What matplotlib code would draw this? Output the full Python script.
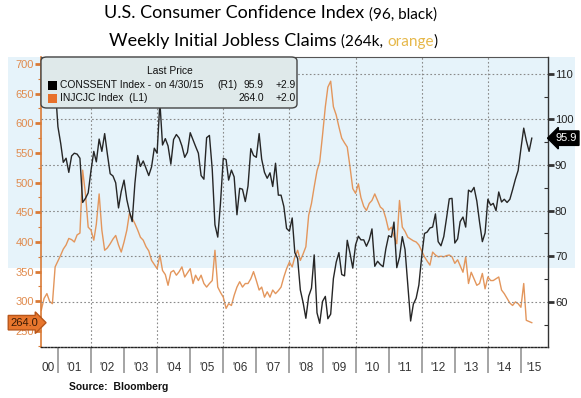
import matplotlib
matplotlib.use("Agg")
import matplotlib.pyplot as plt
from matplotlib.patches import Rectangle, FancyBboxPatch
from matplotlib.ticker import MultipleLocator
import pandas as pd

# monthly values, Jun 2000 .. Apr 2015
start_month = "2000-06-30"
conf_values = [
    106.4, 108.3, 107.3, 106.8, 105.8, 107.6, 98.4,
    94.7, 90.6, 91.5, 88.4, 92.0, 92.6, 92.4, 91.5, 81.8, 82.7, 83.9, 88.8,
    93.0, 90.7, 95.7, 93.0, 96.9, 92.4, 88.1, 87.6, 86.1, 80.6, 84.2, 86.7,
    82.4, 79.9, 77.6, 86.0, 92.1, 89.7, 90.9, 89.3, 87.7, 89.6, 93.7, 92.6,
    103.8, 94.4, 95.8, 94.2, 90.2, 95.6, 96.7, 95.9, 94.2, 91.7, 92.8, 97.1,
    95.5, 94.1, 92.6, 87.7, 86.9, 96.0, 96.5, 89.1, 76.9, 74.2, 81.6, 91.5,
    91.2, 86.7, 88.9, 87.4, 79.1, 84.9, 84.7, 82.0, 85.4, 93.6, 92.1, 91.7,
    96.9, 91.3, 88.4, 87.1, 88.3, 85.3, 90.4, 83.4, 83.4, 80.9, 76.1, 75.5,
    78.4, 70.8, 69.5, 62.6, 59.8, 56.4, 61.2, 63.0, 70.3, 57.6, 55.3, 60.1,
    61.2, 56.3, 57.3, 65.1, 68.7, 70.8, 66.0, 65.7, 73.5, 70.6, 67.4, 72.5,
    74.4, 73.6, 73.6, 72.2, 73.6, 76.0, 67.8, 68.9, 68.2, 67.7, 71.6, 74.5,
    74.2, 77.5, 67.5, 69.8, 74.3, 71.5, 63.7, 55.8, 59.5, 60.8, 63.7, 69.9,
    75.0, 75.3, 76.2, 76.4, 79.3, 73.2, 72.3, 74.3, 78.3, 82.6, 82.7, 72.9,
    73.8, 77.6, 78.6, 76.4, 84.5, 84.1, 85.1, 82.1, 77.5, 73.2, 75.1, 82.5,
    81.2, 81.6, 80.0, 84.1, 81.9, 82.5, 81.8, 82.5, 84.6, 86.9, 88.8, 93.6,
    98.1, 95.4, 93.0, 95.9,
]
claims_values = [
    285, 305, 313, 300, 296, 358, 368,
    378, 388, 395, 406, 404, 400, 412, 415, 521, 481, 425, 420,
    403, 430, 481, 420, 386, 390, 397, 405, 411, 395, 383, 400,
    420, 448, 440, 431, 420, 408, 403, 392, 385, 369, 362, 355,
    378, 352, 345, 327, 349, 352, 344, 350, 358, 341, 348, 355,
    330, 344, 335, 344, 330, 324, 330, 335, 386, 324, 315, 307,
    288, 296, 293, 310, 324, 333, 324, 330, 330, 338, 350, 335,
    319, 324, 307, 316, 307, 319, 313, 318, 324, 341, 355, 366,
    358, 375, 386, 369, 380, 392, 445, 465, 493, 520, 535, 580,
    628, 661, 671, 628, 614, 594, 575, 567, 560, 526, 490, 482,
    498, 475, 460, 453, 465, 470, 481, 470, 459, 455, 440, 420,
    425, 410, 397, 470, 425, 418, 408, 405, 402, 400, 395, 385,
    375, 368, 361, 383, 378, 375, 376, 375, 377, 378, 375, 364,
    370, 360, 349, 375, 330, 349, 338, 327, 330, 347, 321, 341,
    335, 335, 338, 341, 319, 313, 305, 297, 293, 299, 296, 290,
    330, 268, 266, 264,
]
year_starts = list(range(2001, 2016))
year_labels = ["'01", "'02", "'03", "'04", "'05", "'06", "'07", "'08",
               "'09", "'10", "'11", "'12", "'13", "'14", "'15"]
grid_years = [2002, 2004, 2006, 2008, 2010, 2012, 2014]
left_ticks = [250, 300, 350, 400, 450, 500, 550, 600, 650, 700]
right_ticks = [60, 70, 80, 90, 100, 110]
last_conf = 95.9
last_claims = 264.0

BLACK = "#262626"
ORANGE = "#e3965c"
ORANGE_DARK = "#d97a36"

W, H = 581, 398


def fx(px):
    return px / W


def fy(py):
    return 1 - py / H


dates = pd.date_range(start_month, periods=len(conf_values), freq="ME")

fig = plt.figure(figsize=(W / 100, H / 100), dpi=100)
plt.rcParams["font.family"] = ["Liberation Sans", "DejaVu Sans"]

# light blue band behind the upper part of the chart
fig.add_artist(Rectangle((fx(8), fy(268)), fx(575) - fx(8), fy(57) - fy(268),
                         transform=fig.transFigure, facecolor="#e6f3fa",
                         edgecolor="none", zorder=-1))

ax = fig.add_axes([fx(41), fy(347), fx(548) - fx(41), fy(57) - fy(347)])
ax.set_facecolor("none")
ax2 = ax.twinx()
ax2.set_facecolor("none")

ax.plot(dates, claims_values, color=ORANGE, lw=1.0)
ax2.plot(dates, conf_values, color=BLACK, lw=1.0)

ax.set_xlim(pd.Timestamp("2000-06-27"), pd.Timestamp("2015-10-26"))
ax.set_ylim(223, 711.8)
ax2.set_ylim(50.1, 113.7)

# grid
ax2.set_yticks(right_ticks)
ax2.yaxis.grid(True, ls=(0, (1.5, 2)), color="#8a8a8a", lw=0.8)
for yr in grid_years:
    ax.axvline(pd.Timestamp(f"{yr}-01-01"), ls=(0, (1.5, 2)), color="#8a8a8a",
               lw=0.8, zorder=0)

# x axis: separators at year starts, labels in between
ax.set_xticks([pd.Timestamp(f"{y}-01-01") for y in year_starts])
ax.tick_params(axis="x", which="major", length=19, width=1.1, color="#8c8c8c",
               labelbottom=False)
label_pos = [pd.Timestamp(f"{y}-07-01") for y in year_starts[:-1]]
label_pos.append(pd.Timestamp("2015-05-25"))
ax.set_xticks(label_pos, minor=True)
ax.set_xticklabels(year_labels, minor=True)
ax.tick_params(axis="x", which="minor", length=0, pad=11, labelsize=8.5,
               labelcolor="#333333")
fig.text(fx(41), fy(368), "00", ha="left", va="center", fontsize=8.5,
         color="#333333")

# left axis (claims)
ax.set_yticks(left_ticks)
ax.yaxis.set_minor_locator(MultipleLocator(25))
ax.tick_params(axis="y", which="major", length=4, width=2, color=ORANGE_DARK,
               labelsize=8, labelcolor="#e08a4c", pad=1)
ax.tick_params(axis="y", which="minor", length=2, width=0.8, color=ORANGE_DARK)
ax.spines["left"].set_color(ORANGE_DARK)
ax.spines["left"].set_linewidth(1.2)
ax.spines["right"].set_visible(False)
ax.spines["top"].set_color("#555555")
ax.spines["top"].set_linewidth(0.8)
ax.spines["bottom"].set_linestyle((0, (1.2, 1.2)))
ax.spines["bottom"].set_color("#222222")
ax.spines["bottom"].set_linewidth(1.0)

# right axis (confidence)
for side in ["left", "top", "bottom"]:
    ax2.spines[side].set_visible(False)
ax2.spines["right"].set_color("#333333")
ax2.spines["right"].set_linewidth(1.0)
ax2.yaxis.set_minor_locator(MultipleLocator(5))
ax2.tick_params(axis="y", which="major", length=4, width=2, color="#333333",
                labelsize=8, labelcolor="#222222", pad=1)
ax2.tick_params(axis="y", which="minor", length=3, width=0.8, color="#333333",
                direction="in")

# last value tags
ax2.annotate(f"{last_conf:.1f}", xy=(1, last_conf),
             xycoords=ax2.get_yaxis_transform(), xytext=(13, 0),
             textcoords="offset points", ha="center", va="center",
             color="white", fontsize=8, annotation_clip=False,
             bbox=dict(boxstyle="larrow,pad=0.2", fc="black", ec="black"))
ax.annotate(f"{last_claims:.1f}", xy=(0, last_claims),
            xycoords=ax.get_yaxis_transform(), xytext=(-12, 0),
            textcoords="offset points", ha="center", va="center",
            color="#3b1a05", fontsize=8, annotation_clip=False,
            bbox=dict(boxstyle="rarrow,pad=0.2", fc="#e8762d", ec="#b8561a"))

# legend box
fig.add_artist(FancyBboxPatch((fx(41), fy(108)), fx(297) - fx(41),
                              fy(57) - fy(108),
                              boxstyle="round,pad=0,rounding_size=0.01",
                              transform=fig.transFigure, fc="#dfe9ea",
                              ec="#444444", lw=1.0, zorder=5))
fig.add_artist(Rectangle((fx(48), fy(90)), fx(9), fx(9) * W / H,
                         transform=fig.transFigure, fc="black", ec="none",
                         zorder=6))
fig.add_artist(Rectangle((fx(48), fy(103)), fx(9), fx(9) * W / H,
                         transform=fig.transFigure, fc="#e8702a", ec="none",
                         zorder=6))
leg_kw = dict(fontsize=7.4, va="center", color="#111111", zorder=7)
fig.text(fx(170), fy(71), "Last Price", ha="center", **leg_kw)
fig.text(fx(60), fy(85), "CONSSENT Index -", ha="left", **leg_kw)
fig.text(fx(155), fy(85), "on 4/30/15", ha="left", **leg_kw)
fig.text(fx(217), fy(85), "(R1)", ha="left", **leg_kw)
fig.text(fx(264), fy(85), f"{last_conf:.1f}", ha="right", **leg_kw)
fig.text(fx(296), fy(85), "+2.9", ha="right", **leg_kw)
fig.text(fx(60), fy(98), "INJCJC Index  (L1)", ha="left", **leg_kw)
fig.text(fx(264), fy(98), f"{last_claims:.1f}", ha="right", **leg_kw)
fig.text(fx(296), fy(98), "+2.0", ha="right", **leg_kw)

# title, two lines with mixed sizes
title_font = ["Lato", "DejaVu Sans"]
renderer = fig.canvas.get_renderer()


def chain(x_px, y_px, parts):
    x = fx(x_px)
    for txt, size, color in parts:
        t = fig.text(x, fy(y_px), txt, fontsize=size, color=color,
                     ha="left", va="baseline", family=title_font)
        bb = t.get_window_extent(renderer)
        x = bb.x1 / fig.bbox.width


chain(104, 18.5, [("U.S. Consumer Confidence Index ", 13, "black"),
                  ("(96, black)", 11, "black")])
chain(109, 46, [("Weekly Initial Jobless Claims ", 13, "black"),
                ("(264k, ", 11, "black"),
                ("orange", 11, "#e6b84a"),
                (")", 11, "black")])

fig.text(fx(69), fy(387), "Source:  Bloomberg", fontsize=7.5,
         fontweight="bold", va="center", ha="left", color="#111111")

fig.savefig("out.png", dpi=100)
